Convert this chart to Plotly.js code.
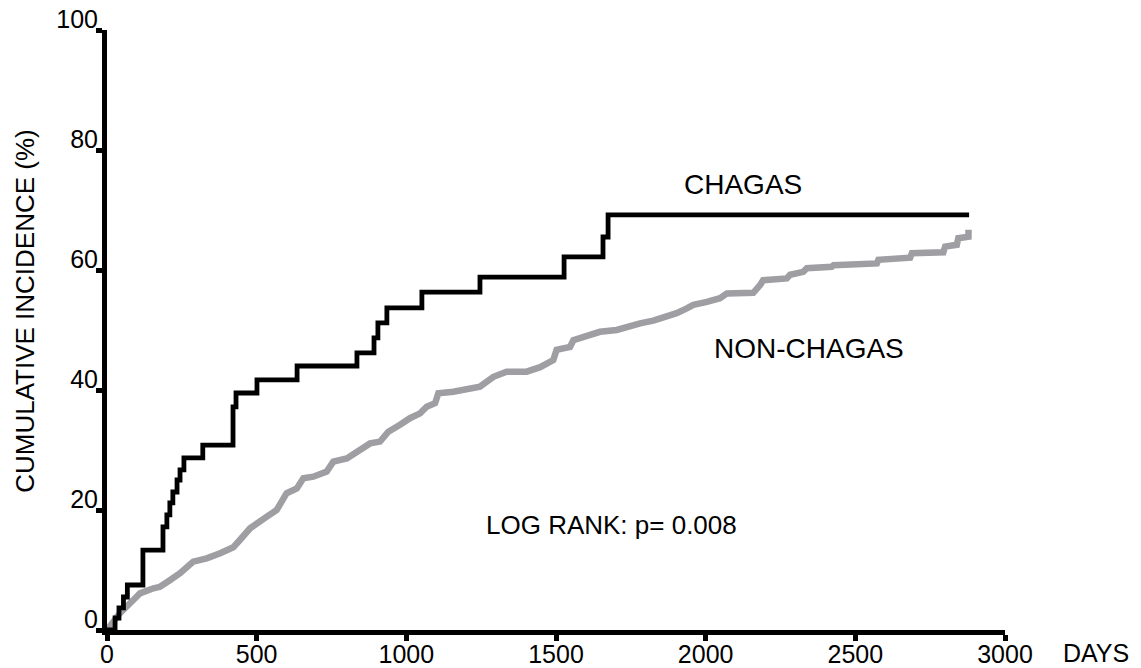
<!DOCTYPE html>
<html>
<head>
<meta charset="utf-8">
<script src="https://cdn.plot.ly/plotly-3.0.1.min.js"></script>
<style>html,body{margin:0;padding:0;background:#fff;}#chart{width:1141px;height:668px;}</style>
</head>
<body>
<div id="chart"></div>
<script>
// Chagas cohort: cumulative incidence (%) vs days (step function)
const chagasDays = [0, 27, 40, 55, 68, 120, 187, 200, 210, 220, 234, 244, 257, 320, 421, 431, 501, 635, 835, 892, 905, 935, 1052, 1246, 1527, 1657, 1674, 2880];
const chagasPct  = [0, 2.0, 3.7, 5.5, 7.5, 13.3, 17.2, 19.2, 21.2, 23.0, 25.0, 26.7, 28.7, 30.8, 37.2, 39.5, 41.7, 44.0, 46.2, 48.7, 51.2, 53.7, 56.3, 58.8, 62.2, 65.5, 69.2, 69.2];

// Non-Chagas cohort: points read along the (finely stepped) curve
const nonChagasDays = [0, 43, 88, 110, 155, 177, 210, 244, 288, 333, 378, 422, 444, 478, 534, 567, 600, 634, 656, 689, 734, 756, 801, 834, 879, 912, 940, 979, 1012, 1046, 1068, 1096, 1107, 1157, 1202, 1246, 1269, 1291, 1335, 1402, 1447, 1491, 1502, 1547, 1558, 1603, 1647, 1703, 1736, 1781, 1825, 1870, 1903, 1937, 1959, 2004, 2048, 2071, 2159, 2182, 2192, 2271, 2282, 2326, 2338, 2421, 2427, 2572, 2577, 2683, 2689, 2794, 2800, 2839, 2844, 2878, 2878];
const nonChagasPct  = [0, 2.8, 5.0, 6.1, 6.95, 7.2, 8.3, 9.45, 11.4, 11.95, 12.8, 13.8, 15.0, 16.95, 18.9, 20.0, 22.8, 23.6, 25.3, 25.55, 26.4, 28.05, 28.6, 29.7, 31.1, 31.4, 33.05, 34.2, 35.3, 36.1, 37.2, 37.8, 39.45, 39.7, 40.1, 40.55, 41.4, 42.2, 43.05, 43.05, 43.8, 45.0, 46.7, 47.2, 48.3, 48.9, 49.7, 50.0, 50.55, 51.1, 51.55, 52.2, 52.8, 53.6, 54.2, 54.7, 55.3, 56.1, 56.2, 57.5, 58.3, 58.6, 59.2, 59.7, 60.3, 60.55, 60.8, 61.1, 61.7, 62.05, 62.8, 62.95, 63.9, 64.2, 65.3, 65.55, 66.7];

const xTicks = [0, 500, 1000, 1500, 2000, 2500, 3000];
const yTicks = [0, 20, 40, 60, 80, 100];

const FONT = 'Liberation Sans, Arial, sans-serif';

const traces = [
  {
    x: nonChagasDays, y: nonChagasPct, type: 'scatter', mode: 'lines',
    line: {shape: 'linear', color: 'rgb(158,158,163)', width: 6.5},
    cliponaxis: false, hoverinfo: 'skip', name: 'NON-CHAGAS'
  },
  {
    x: chagasDays, y: chagasPct, type: 'scatter', mode: 'lines',
    line: {shape: 'hv', color: '#000', width: 4.8},
    cliponaxis: false, hoverinfo: 'skip', name: 'CHAGAS'
  }
];

const layout = {
  width: 1141, height: 668,
  margin: {l: 107, r: 136, t: 30, b: 38},
  paper_bgcolor: '#fff', plot_bgcolor: '#fff',
  showlegend: false,
  font: {family: FONT, color: '#000', size: 25},
  xaxis: {
    range: [0, 3000], tickvals: xTicks, ticktext: xTicks.map(String),
    showline: true, linecolor: '#000', linewidth: 5,
    ticks: 'outside', ticklen: 6, tickwidth: 5, tickcolor: '#000',
    showgrid: false, zeroline: false, ticklabelstandoff: -8,
    tickfont: {family: FONT, size: 25, color: '#000'}
  },
  yaxis: {
    range: [0, 100], tickvals: yTicks, ticktext: yTicks.map(String),
    showline: true, linecolor: '#000', linewidth: 5,
    ticks: 'outside', ticklen: 6, tickwidth: 5, tickcolor: '#000',
    showgrid: false, zeroline: false, ticklabelshift: -11, ticklabelstandoff: -7,
    tickfont: {family: FONT, size: 25, color: '#000'}
  },
  annotations: [
    {text: 'CUMULATIVE INCIDENCE (%)', xref: 'paper', yref: 'paper', x: -0.0913, y: 0.532,
     textangle: -90, showarrow: false, xanchor: 'center', yanchor: 'middle',
     font: {family: FONT, size: 26, color: '#000'}},
    {text: 'DAYS', xref: 'paper', yref: 'paper', x: 1.101, y: -0.039,
     showarrow: false, xanchor: 'center', yanchor: 'middle',
     font: {family: FONT, size: 25, color: '#000'}},
    {text: 'CHAGAS', xref: 'x', yref: 'y', x: 2125, y: 74.2,
     showarrow: false, xanchor: 'center', yanchor: 'middle',
     font: {family: FONT, size: 28, color: '#000'}},
    {text: 'NON-CHAGAS', xref: 'x', yref: 'y', x: 2345, y: 46.9,
     showarrow: false, xanchor: 'center', yanchor: 'middle',
     font: {family: FONT, size: 28, color: '#000'}},
    {text: 'LOG RANK: p= 0.008', xref: 'x', yref: 'y', x: 1686, y: 17.5,
     showarrow: false, xanchor: 'center', yanchor: 'middle',
     font: {family: FONT, size: 26, color: '#000'}}
  ]
};

Plotly.newPlot('chart', traces, layout, {displayModeBar: false, staticPlot: true});
</script>
</body>
</html>
